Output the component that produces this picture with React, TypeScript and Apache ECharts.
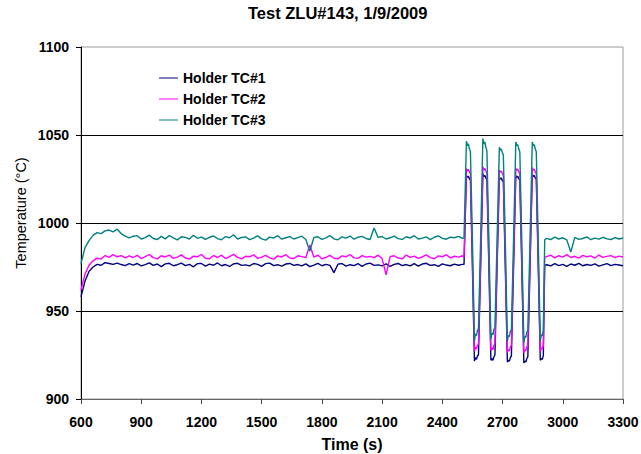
import React, { useEffect, useRef } from "react";
import * as echarts from "echarts";

// ---- Data (time in s, temperatures in °C) ----
const tWarmFlat = [
  600, 620, 640, 660, 680, 700, 720, 740, 760, 780,
  800, 820, 840, 860, 880, 900, 920, 940, 960, 980,
  1000, 1020, 1040, 1060, 1080, 1100, 1120, 1140, 1160, 1180,
  1200, 1220, 1240, 1260, 1280, 1300, 1320, 1340, 1360, 1380,
  1400, 1420, 1440, 1460, 1480, 1500, 1520, 1540, 1560, 1580,
  1600, 1620, 1640, 1660, 1680, 1700, 1720, 1740, 1760, 1780,
  1800, 1820, 1840, 1860, 1880, 1900, 1920, 1940, 1960, 1980,
  2000, 2020, 2040, 2060, 2080, 2100, 2120, 2140, 2160, 2180,
  2200, 2220, 2240, 2260, 2280, 2300, 2320, 2340, 2360, 2380,
  2400, 2420, 2440, 2460, 2480, 2500,
];
const tc1WarmFlat = [
  958, 967, 972.5, 975, 976.5, 976, 977.5, 977, 976.5, 977.2, 976.4, 975.8, 976.9, 976.1,
  977.0, 975.6, 976.4, 977.3, 975.9, 976.7, 975.2, 976.8, 977.1, 975.7,
  976.3, 977.2, 975.8, 976.5, 975.1, 976.9, 977.0, 975.5, 976.6, 976.0,
  977.3, 975.7, 976.4, 975.3, 976.8, 977.1, 975.9, 976.2, 975.6, 977.0,
  976.5, 975.4, 976.9, 977.2, 975.8, 976.3, 975.5, 976.7, 977.0, 975.9,
  976.4, 975.6, 976.8, 975.2, 976.1, 977.1, 975.7, 976.5, 975.9, 971.8,
  976.6, 977.0, 975.5, 976.3, 975.8, 976.9, 975.4, 976.7, 977.2, 975.9,
  976.2, 975.6, 976.8, 975.3, 976.5, 977.0, 975.8, 976.4, 975.6, 976.9,
  975.5, 976.7, 977.1, 975.9, 976.3, 975.4, 976.8, 976.1, 975.7, 976.6,
  976.0, 976.5,
];
const tc2WarmFlat = [
  962, 971, 976, 978.5, 980, 979.5, 981.5, 980.5, 982, 980.8, 981.5, 980.2, 981.3, 980.4,
  981.6, 979.8, 980.9, 982.0, 980.3, 979.6, 981.4, 980.7, 981.8, 979.9,
  980.6, 981.9, 980.1, 979.5, 981.2, 980.8, 982.1, 980.0, 979.7, 981.5,
  980.4, 981.7, 979.8, 980.9, 982.2, 980.5, 979.6, 981.1, 980.8, 981.9,
  979.9, 980.6, 981.6, 980.2, 979.5, 981.3, 980.7, 982.0, 980.1, 979.8,
  981.4, 980.9, 980.3, 987.5, 980.6, 981.8, 979.7, 980.5, 981.6, 980.0,
  979.6, 981.3, 980.8, 982.1, 980.2, 979.9, 981.5, 980.6, 981.0, 980.3,
  981.7, 979.8, 970.5, 980.9, 981.4, 980.1, 979.6, 981.8, 980.5, 981.2,
  979.9, 980.7, 981.9, 980.3, 979.7, 981.3, 980.8, 982.0, 980.2, 981.1,
  980.6, 981.4,
];
const tc3WarmFlat = [
  977, 986, 990, 993, 994.5, 994, 995.5, 996, 995, 996.5, 994, 992.5, 991.5, 992.5,
  992.8, 990.9, 991.7, 993.1, 991.2, 990.6, 992.4, 991.0, 992.9, 991.5,
  990.4, 992.2, 991.8, 990.9, 993.0, 991.3, 992.0, 990.7, 991.9, 992.6,
  991.1, 990.5, 992.3, 991.6, 993.3, 990.9, 991.8, 992.1, 990.6, 991.4,
  992.7, 991.0, 990.3, 992.0, 991.5, 992.8, 990.8, 991.6, 992.3, 990.9,
  991.7, 992.5, 990.6, 984.0, 991.8, 992.2, 990.7, 991.5, 992.9, 991.0,
  990.5, 992.1, 991.4, 992.6, 990.8, 991.9, 992.4, 991.2, 990.6, 997.2,
  991.8, 992.3, 990.9, 991.6, 992.5, 991.1, 990.7, 992.2, 991.5, 992.8,
  990.9, 991.4, 992.1, 990.6, 991.9, 992.7, 991.3, 990.8, 992.0, 991.6,
  992.4, 991.2,
];

const tCycle = [
  2508,
  2520, 2525, 2530, 2535, 2540, 2550, 2560, 2565, 2570, 2575, 2580, 2591,
  2602, 2607, 2612, 2617, 2622, 2632, 2642, 2647, 2652, 2657, 2662, 2673,
  2684, 2689, 2694, 2699, 2704, 2714, 2724, 2729, 2734, 2739, 2744, 2755,
  2766, 2771, 2776, 2781, 2786, 2796, 2806, 2811, 2816, 2821, 2826, 2837,
  2848, 2853, 2858, 2863, 2868, 2878, 2888, 2893, 2898, 2903,
  2910,
];
const tc1Cycle = [
  976.5,
  1027, 1026, 1026.5, 1025, 1024.5, 974, 921.5, 923.5, 922.5, 924.5, 925, 976,
  1028, 1026.5, 1027, 1025.5, 1025, 974, 922, 923, 922, 924, 925, 976,
  1026, 1025, 1025.5, 1024, 1023.5, 973, 921, 922, 921.5, 923.5, 924.5, 975.5,
  1027, 1026, 1026.5, 1025, 1024.5, 973.5, 920.5, 921.5, 921, 923, 924, 975.5,
  1027.5, 1026.5, 1027, 1025.5, 1025, 974, 922, 923, 922.5, 924.5,
  976,
];
const tc2Cycle = [
  980.5,
  1031, 1029.5, 1030.5, 1029, 1028, 979, 927, 929.5, 928.5, 930.5, 931, 980,
  1032, 1030, 1031, 1029.5, 1028.5, 979, 927.5, 929, 928, 930.5, 931.5, 980,
  1030, 1029, 1029.5, 1028, 1027, 978, 926.5, 928, 927.5, 929.5, 930.5, 979.5,
  1031, 1030, 1030.5, 1029, 1028, 978.5, 926, 928, 927.5, 929.5, 930.5, 979.5,
  1031.5, 1030, 1030.5, 1029, 1028, 978.5, 927, 929, 928.5, 930.5,
  980.5,
];
const tc3Cycle = [
  991.5,
  1046.5, 1044, 1045, 1042, 1040.5, 990, 933, 937, 936, 939, 940, 992,
  1048, 1045, 1046, 1043, 1041, 990, 934, 937.5, 936.5, 939.5, 940.5, 992,
  1043, 1041.5, 1042, 1040, 1038.5, 988, 933, 936, 935.5, 938.5, 939.5, 991.5,
  1046, 1044, 1044.5, 1042, 1040.5, 989, 932, 935.5, 935, 938, 939, 991,
  1046, 1044, 1044.5, 1042, 1040.5, 989, 933, 936.5, 936, 939,
  990.5,
];

const tTail = [
  2920, 2940, 2960, 2980, 3000, 3020, 3040, 3060, 3080, 3100,
  3120, 3140, 3160, 3180, 3200, 3220, 3240, 3260, 3280, 3300,
];
const tc1Tail = [
  976.3, 975.6, 976.9, 975.8, 976.5, 975.4, 976.7, 976.0, 977.0, 975.7,
  976.4, 975.9, 976.8, 975.5, 976.2, 976.9, 975.8, 976.5, 976.1, 975.7,
];
const tc2Tail = [
  980.9, 981.7, 980.2, 981.4, 980.6, 982.0, 980.4, 981.1, 980.0, 981.6,
  980.8, 981.3, 980.1, 981.8, 980.5, 981.0, 981.5, 980.3, 981.2, 980.7,
];
const tc3Tail = [
  991.3, 990.6, 992.0, 990.9, 991.6, 990.4, 983.5, 991.8, 990.7, 991.2,
  992.1, 990.5, 991.4, 990.8, 991.9, 991.0, 990.6, 991.7, 990.9, 991.5,
];

const seriesNames = ["Holder TC#1", "Holder TC#2", "Holder TC#3"];
const seriesColors = ["#000080", "#FF00FF", "#008080"];

const xTickMin = 600;
const xTickMax = 3300;
const xTickStep = 300;
const yTickMin = 900;
const yTickMax = 1100;
const yTickStep = 50;

const FONT = "'Liberation Sans', Arial, Helvetica, sans-serif";

function zip(t: number[], v: number[]) {
  return t.map((x, i) => [x, v[i]]);
}

export default function App() {
  const ref = useRef<HTMLDivElement>(null);

  useEffect(() => {
    document.body.style.margin = "0";
    if (!ref.current) return;
    const chart = echarts.init(ref.current, undefined, { renderer: "svg" });

    const time = [...tWarmFlat, ...tCycle, ...tTail];
    const values = [
      [...tc1WarmFlat, ...tc1Cycle, ...tc1Tail],
      [...tc2WarmFlat, ...tc2Cycle, ...tc2Tail],
      [...tc3WarmFlat, ...tc3Cycle, ...tc3Tail],
    ];

    chart.setOption({
      animation: false,
      backgroundColor: "#ffffff",
      title: {
        text: "Test ZLU#143, 1/9/2009",
        left: 248,
        top: 4,
        padding: 0,
        textStyle: { fontFamily: FONT, fontSize: 16.5, fontWeight: "bold", color: "#000" },
      },
      legend: {
        orient: "vertical",
        left: 159,
        top: 71,
        padding: 0,
        itemWidth: 19,
        itemHeight: 14,
        itemGap: 7,
        icon: "path://M0,7 L19,7 L19,8 L0,8 Z",
        data: seriesNames,
        textStyle: { fontFamily: FONT, fontSize: 14, fontWeight: "bold", color: "#000", lineHeight: 14 },
      },
      grid: {
        left: 81,
        right: 18,
        top: 47,
        bottom: 55,
        outerBoundsMode: "none",
        containLabel: false,
        show: true,
        borderColor: "#9a9a9a",
        borderWidth: 1,
        backgroundColor: "transparent",
      },
      xAxis: {
        type: "value",
        min: xTickMin,
        max: xTickMax,
        interval: xTickStep,
        name: "Time (s)",
        nameLocation: "middle",
        nameGap: 37,
        nameTextStyle: { fontFamily: FONT, fontSize: 16, fontWeight: "bold", color: "#000" },
        axisLine: { show: true, onZero: false, lineStyle: { color: "#666", width: 1 } },
        axisTick: { show: true, length: 5, inside: false, lineStyle: { color: "#444" } },
        axisLabel: {
          margin: 16,
          fontFamily: FONT,
          fontSize: 14,
          fontWeight: "bold",
          color: "#000",
          formatter: (v: number) => String(v),
        },
        splitLine: { show: false },
      },
      yAxis: {
        type: "value",
        min: yTickMin,
        max: yTickMax,
        interval: yTickStep,
        axisLine: { show: true, onZero: false, lineStyle: { color: "#000", width: 1 } },
        axisTick: { show: true, length: 5, inside: false, lineStyle: { color: "#000" } },
        axisLabel: {
          margin: 12,
          fontFamily: FONT,
          fontSize: 14,
          fontWeight: "bold",
          color: "#000",
          formatter: (v: number) => String(v),
        },
        splitLine: { show: true, showMinLine: false, showMaxLine: false, lineStyle: { color: "#000", width: 1 } },
      },
      graphic: [
        {
          type: "text",
          x: 21,
          y: 213,
          rotation: Math.PI / 2,
          style: {
            text: "Temperature (°C)",
            fontFamily: FONT,
            fontSize: 14.5,
            fill: "#000",
            align: "center",
            verticalAlign: "middle",
          },
        },
      ],
      series: seriesNames.map((name, k) => ({
        name,
        type: "line",
        data: zip(time, values[k]),
        showSymbol: false,
        symbol: "none",
        color: seriesColors[k],
        lineStyle: { color: seriesColors[k], width: 1.4 },
        emphasis: { disabled: true },
      })),
    });

    return () => chart.dispose();
  }, []);

  return <div ref={ref} style={{ width: 641, height: 454 }} />;
}
